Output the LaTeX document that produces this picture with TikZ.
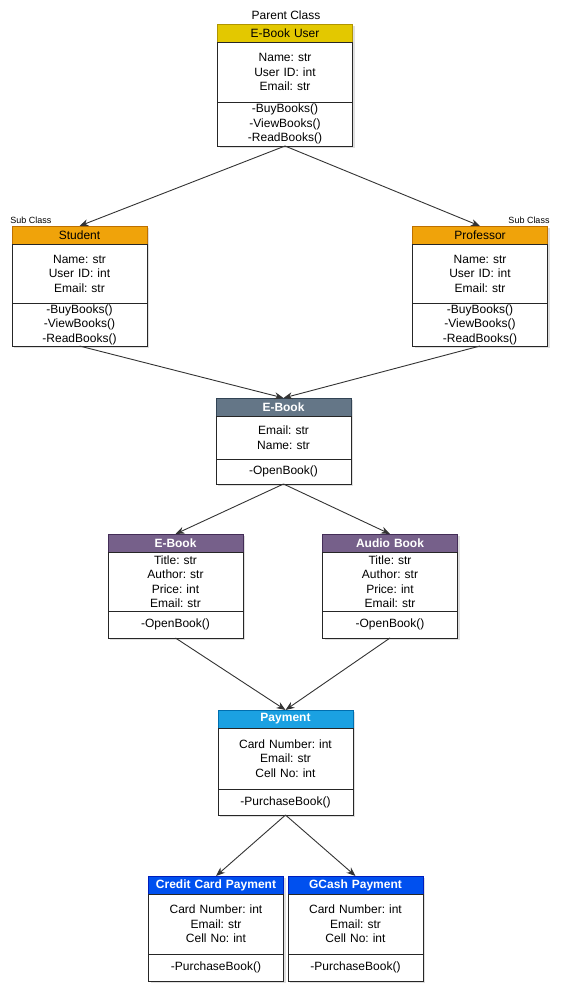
\documentclass[tikz,border=0pt]{standalone}
\usepackage{fontspec}
\setmainfont{Liberation Sans}
\usetikzlibrary{positioning,arrows.meta,shadows}
\frenchspacing

\definecolor{userfill}{HTML}{E3C800}
\definecolor{userline}{HTML}{B09500}
\definecolor{subfill}{HTML}{F0A30A}
\definecolor{subline}{HTML}{BD7000}
\definecolor{bookfill}{HTML}{647687}
\definecolor{bookline}{HTML}{314354}
\definecolor{kindfill}{HTML}{76608A}
\definecolor{kindline}{HTML}{432D57}
\definecolor{payfill}{HTML}{1BA1E2}
\definecolor{payline}{HTML}{006EAF}
\definecolor{cardfill}{HTML}{0050EF}
\definecolor{cardline}{HTML}{001DBC}

\tikzset{
  part/.style={draw=black!85, line width=0.8pt, fill=white, inner sep=0pt, outer sep=0pt,
    text width=135pt, align=center, font=\fontsize{12}{14.5}\selectfont,
    drop shadow={opacity=0.25, shadow xshift=2pt, shadow yshift=-2pt}},
  head/.style={part, anchor=north, minimum height=18pt},
  headdark/.style={head, text=white, font=\fontsize{12}{14.5}\selectfont\bfseries},
  attr/.style={part, minimum height=#1},
  meth/.style={part, minimum height=#1},
  link/.style={draw=black!80, line width=0.9pt, -{Stealth[length=9pt,width=7pt]}},
  tag/.style={font=\fontsize{12}{14.5}\selectfont},
  smalltag/.style={font=\fontsize{9}{11}\selectfont},
}

\begin{document}
\begin{tikzpicture}[x=1pt,y=1pt]
\useasboundingbox (0,0) rectangle (569,-992);

% parent class
\node[tag] (parent) at (286,-15) {Parent Class};
\node[head, fill=userfill, draw=userline] (userh) at (285,-24) {E-Book User};
\node[attr=60pt, below=0pt of userh] (usera) {Name: str\\User ID: int\\Email: str};
\node[meth=44pt, below=0pt of usera] (userm) {-BuyBooks()\\-ViewBooks()\\-ReadBooks()};

% sub classes
\node[smalltag] (subl) at (31,-220) {Sub Class};
\node[smalltag] (subr) at (529,-220) {Sub Class};
\node[head, fill=subfill, draw=subline] (studh) at (79.5,-226) {Student};
\node[attr=59pt, below=0pt of studh] (studa) {Name: str\\User ID: int\\Email: str};
\node[meth=43pt, below=0pt of studa] (studm) {-BuyBooks()\\-ViewBooks()\\-ReadBooks()};

\node[head, fill=subfill, draw=subline] (profh) at (480,-226) {Professor};
\node[attr=59pt, below=0pt of profh] (profa) {Name: str\\User ID: int\\Email: str};
\node[meth=43pt, below=0pt of profa] (profm) {-BuyBooks()\\-ViewBooks()\\-ReadBooks()};

% e-book
\node[headdark, fill=bookfill, draw=bookline] (bookh) at (283.5,-398) {E-Book};
\node[attr=43pt, below=0pt of bookh] (booka) {Email: str\\Name: str};
\node[meth=25pt, below=0pt of booka] (bookm) {-OpenBook()};

\node[headdark, fill=kindfill, draw=kindline] (ebookh) at (175.5,-534) {E-Book};
\node[attr=59pt, below=0pt of ebookh] (ebooka) {Title: str\\Author: str\\Price: int\\Email: str};
\node[meth=27pt, below=0pt of ebooka] (ebookm) {-OpenBook()};

\node[headdark, fill=kindfill, draw=kindline] (audioh) at (390,-534) {Audio Book};
\node[attr=59pt, below=0pt of audioh] (audioa) {Title: str\\Author: str\\Price: int\\Email: str};
\node[meth=27pt, below=0pt of audioa] (audiom) {-OpenBook()};

% payment
\node[headdark, fill=payfill, draw=payline] (payh) at (285.5,-710) {Payment};
\node[attr=61pt, below=0pt of payh] (paya) {Card Number: int\\Email: str\\Cell No: int};
\node[meth=26pt, below=0pt of paya] (paym) {-PurchaseBook()};

\node[headdark, fill=cardfill, draw=cardline] (credh) at (216,-876) {Credit Card Payment};
\node[attr=60pt, below=0pt of credh] (creda) {Card Number: int\\Email: str\\Cell No: int};
\node[meth=27pt, below=0pt of creda] (credm) {-PurchaseBook()};

\node[headdark, fill=cardfill, draw=cardline] (gcashh) at (355.5,-876) {GCash Payment};
\node[attr=60pt, below=0pt of gcashh] (gcasha) {Card Number: int\\Email: str\\Cell No: int};
\node[meth=27pt, below=0pt of gcasha] (gcashm) {-PurchaseBook()};

% links
\draw[link] (userm.south) -- (studh.north);
\draw[link] (userm.south) -- (profh.north);
\draw[link] (studm.south) -- (bookh.north);
\draw[link] (profm.south) -- (bookh.north);
\draw[link] (bookm.south) -- (ebookh.north);
\draw[link] (bookm.south) -- (audioh.north);
\draw[link] (ebookm.south) -- (payh.north);
\draw[link] (audiom.south) -- (payh.north);
\draw[link] (paym.south) -- (credh.north);
\draw[link] (paym.south) -- (gcashh.north);
\end{tikzpicture}
\end{document}
